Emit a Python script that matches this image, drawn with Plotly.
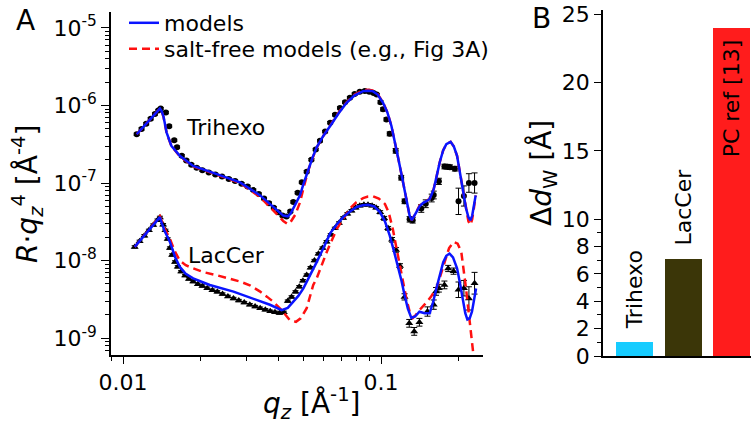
import plotly.graph_objects as go

# ---------------- Panel A data ----------------
tri_q = [0.0113, 0.0118, 0.0123, 0.0128, 0.0133, 0.0137, 0.0140, 0.01466, 0.0151, 0.0158,
         0.0162, 0.0169, 0.0176, 0.0184, 0.0193, 0.0203, 0.0215, 0.0228, 0.0242, 0.0257,
         0.0272, 0.0288, 0.0304, 0.0320, 0.0336, 0.0352, 0.0368, 0.0384, 0.0400, 0.0415,
         0.0430, 0.0445, 0.0457, 0.0475, 0.0493, 0.0515, 0.0537, 0.0558, 0.0580, 0.0607,
         0.0635, 0.0663, 0.0693, 0.0725, 0.0757, 0.0790, 0.0827, 0.0865, 0.0900, 0.0935,
         0.0962, 0.0995, 0.1018, 0.1049, 0.1080, 0.1139, 0.1197, 0.1233, 0.1290, 0.1326,
         0.1432, 0.1490, 0.1571, 0.1600, 0.1675, 0.1760, 0.1810, 0.1848, 0.1932, 0.1996,
         0.2094, 0.2190, 0.2303]
tri_R = [4.25e-7, 4.98e-7, 5.8e-7, 6.73e-7, 7.77e-7, 8.6e-7, 9.1e-7, 8.1e-7, 5.4e-7, 3.55e-7,
         2.9e-7, 2.24e-7, 1.95e-7, 1.72e-7, 1.57e-7, 1.46e-7, 1.37e-7, 1.29e-7, 1.21e-7, 1.13e-7,
         1.06e-7, 9.8e-8, 9.0e-8, 8.1e-8, 7.2e-8, 6.3e-8, 5.5e-8, 4.8e-8, 4.2e-8, 3.8e-8,
         3.7e-8, 4.3e-8, 5.7e-8, 7.5e-8, 1.02e-7, 1.4e-7, 2.0e-7, 2.7e-7, 3.5e-7, 4.6e-7,
         6.0e-7, 7.6e-7, 9.3e-7, 1.1e-6, 1.26e-6, 1.4e-6, 1.5e-6, 1.53e-6, 1.5e-6, 1.45e-6,
         1.38e-6, 1.1e-6, 8.9e-7, 6.6e-7, 4.3e-7, 2.6e-7, 1.17e-7, 5.8e-8, 3.4e-8, 3.3e-8,
         4.7e-8, 5.4e-8, 6.4e-8, 7.0e-8, 1.05e-7, 1.63e-7, 1.62e-7, 1.6e-7, 1.53e-7, 5.8e-8,
         6.8e-8, 1.0e-7, 1.0e-7]
# error half-width in decades
tri_err_dex = [0.015] * 51 + [0.02, 0.02, 0.02, 0.025, 0.03, 0.03, 0.03, 0.035, 0.035,
               0.05, 0.05, 0.05, 0.05, 0.04, 0.03, 0.03, 0.03, 0.03, 0.17,
               0.13, 0.12, 0.13]

lac_q = [0.0111, 0.0116, 0.0121, 0.0126, 0.0131, 0.0136, 0.0139, 0.0143, 0.0146, 0.0149,
         0.0152, 0.0155, 0.0159, 0.0163, 0.0168, 0.0174, 0.0180, 0.0187, 0.0195, 0.0203,
         0.0212, 0.0222, 0.0232, 0.0243, 0.0255, 0.0268, 0.0281, 0.0295, 0.0310, 0.0325,
         0.0340, 0.0356, 0.0372, 0.0388, 0.0404, 0.0420, 0.0435, 0.0450, 0.0466, 0.0482,
         0.0498, 0.0515, 0.0533, 0.0552, 0.0572, 0.0593, 0.0615, 0.0638, 0.0662, 0.0687,
         0.0713, 0.0740, 0.0768, 0.0797, 0.0827, 0.0858, 0.0890, 0.0923, 0.0957, 0.0992,
         0.1028, 0.1065, 0.1103, 0.1143, 0.1184, 0.1233, 0.1286, 0.1344, 0.1408, 0.1513,
         0.1600, 0.1633, 0.1675, 0.1760, 0.1820, 0.1910, 0.1996, 0.2094, 0.2190, 0.2303]
lac_R = [1.5e-8, 1.77e-8, 2.09e-8, 2.45e-8, 2.87e-8, 3.32e-8, 3.6e-8, 2.9e-8, 2.45e-8, 1.9e-8,
         1.45e-8, 1.18e-8, 9.6e-9, 8.3e-9, 7.2e-9, 6.4e-9, 5.8e-9, 5.35e-9, 4.95e-9, 4.7e-9,
         4.4e-9, 4.15e-9, 3.95e-9, 3.7e-9, 3.45e-9, 3.24e-9, 3.05e-9, 2.87e-9, 2.7e-9, 2.55e-9,
         2.43e-9, 2.32e-9, 2.22e-9, 2.15e-9, 2.1e-9, 2.15e-9, 3.0e-9, 3.4e-9, 3.95e-9, 4.6e-9,
         5.5e-9, 6.5e-9, 8.1e-9, 1.0e-8, 1.22e-8, 1.45e-8, 1.75e-8, 2.15e-8, 2.6e-8, 3.05e-8,
         3.55e-8, 4.0e-8, 4.4e-8, 4.8e-8, 5.1e-8, 5.25e-8, 5.25e-8, 5.1e-8, 4.8e-8, 4.2e-8,
         3.5e-8, 2.6e-8, 1.85e-8, 1.37e-8, 8.5e-9, 3.4e-9, 1.55e-9, 1.22e-9, 1.6e-9, 2.2e-9,
         2.7e-9, 4.0e-9, 4.4e-9, 4.85e-9, 7.9e-9, 7.3e-9, 4.2e-9, 4.4e-9, 3.25e-9, 5.1e-9]
lac_err_dex = [0.015] * 59 + [0.02, 0.025, 0.025, 0.03, 0.03, 0.03, 0.04, 0.05, 0.05, 0.05, 0.06,
               0.06, 0.05, 0.05, 0.05, 0.04, 0.04, 0.10, 0.10, 0.15, 0.14]

# models (blue, solid)
tri_model_q = [0.0113, 0.0139, 0.0141, 0.01434, 0.01476, 0.0154, 0.0166, 0.0187, 0.0231, 0.0284,
               0.0340, 0.0382, 0.0418, 0.0435, 0.0445, 0.0465, 0.0485, 0.0502, 0.0522, 0.0543,
               0.0563, 0.0598, 0.0635, 0.0685, 0.0735, 0.0790, 0.0852, 0.0890, 0.0929, 0.0970,
               0.1018, 0.1058, 0.1097, 0.1130, 0.1160, 0.1197, 0.1233, 0.1262, 0.1290, 0.1316,
               0.1340, 0.1370, 0.1410, 0.1456, 0.1500, 0.1543, 0.1570, 0.1600, 0.1640, 0.1687,
               0.1740, 0.1790, 0.1860, 0.1915, 0.1970, 0.2025, 0.2080, 0.2135, 0.2180, 0.2220,
               0.2255, 0.2295, 0.2326]
tri_model_R = [4.25e-7, 9.12e-7, 8.51e-7, 7.3e-7, 4.47e-7, 3.02e-7, 2.24e-7, 1.66e-7, 1.30e-7, 1.02e-7,
               6.92e-8, 4.9e-8, 3.8e-8, 3.72e-8, 3.98e-8, 5.25e-8, 6.92e-8, 1.0e-7, 1.51e-7, 2.14e-7,
               2.88e-7, 4.07e-7, 5.43e-7, 7.94e-7, 1.08e-6, 1.35e-6, 1.53e-6, 1.55e-6, 1.53e-6, 1.38e-6,
               1.08e-6, 8.13e-7, 5.43e-7, 3.55e-7, 2.24e-7, 1.35e-7, 8.37e-8, 5.5e-8, 3.8e-8, 3.31e-8,
               3.63e-8, 4.22e-8, 5.01e-8, 5.55e-8, 5.82e-8, 6.24e-8, 7.08e-8, 8.37e-8, 1.2e-7, 1.84e-7,
               2.63e-7, 3.16e-7, 3.39e-7, 2.95e-7, 2.24e-7, 1.32e-7, 7.59e-8, 4.68e-8, 3.63e-8, 3.31e-8,
               3.8e-8, 5.13e-8, 6.92e-8]

lac_model_q = [0.0111, 0.0139, 0.01415, 0.0145, 0.0152, 0.0159, 0.0166, 0.0175, 0.0187, 0.0217,
               0.0268, 0.0320, 0.0371, 0.0412, 0.0435, 0.0457, 0.0478, 0.0500, 0.0530, 0.0563,
               0.0598, 0.0635, 0.0672, 0.0713, 0.0758, 0.0805, 0.0850, 0.0890, 0.0940, 0.0990,
               0.1035, 0.1080, 0.1120, 0.1160, 0.1200, 0.1233, 0.1270, 0.1310, 0.1355, 0.1408,
               0.1475, 0.1543, 0.1590, 0.1638, 0.1690, 0.1741, 0.1790, 0.1842, 0.1900, 0.1970,
               0.2025, 0.2080, 0.2120, 0.2160, 0.2205, 0.2250, 0.2290, 0.2334]
lac_model_R = [1.5e-8, 3.63e-8, 3.02e-8, 2.4e-8, 1.74e-8, 1.12e-8, 8.32e-9, 6.76e-9, 5.89e-9, 4.84e-9,
               3.98e-9, 3.24e-9, 2.69e-9, 2.29e-9, 2.45e-9, 2.95e-9, 3.5e-9, 4.37e-9, 6.3e-9, 9.55e-9,
               1.45e-8, 2.24e-8, 2.9e-8, 3.63e-8, 4.3e-8, 4.9e-8, 5.15e-8, 5.25e-8, 5.0e-8, 4.22e-8,
               3.2e-8, 2.11e-8, 1.35e-8, 8.71e-9, 5.5e-9, 3.59e-9, 2.4e-9, 1.82e-9, 1.9e-9, 2.19e-9,
               2.09e-9, 2.09e-9, 2.9e-9, 4.37e-9, 6.8e-9, 9.55e-9, 1.15e-8, 1.23e-8, 1.1e-8, 7.94e-9,
               5.0e-9, 2.95e-9, 2.1e-9, 1.74e-9, 1.8e-9, 2.19e-9, 3.0e-9, 4.37e-9]

# salt-free models (red, dashed)
tri_sf_q = tri_model_q
tri_sf_R = [4.25e-7, 9.12e-7, 8.51e-7, 7.2e-7, 4.4e-7, 3.0e-7, 2.2e-7, 1.64e-7, 1.28e-7, 1.0e-7,
            6.6e-8, 4.47e-8, 3.24e-8, 2.95e-8, 3.1e-8, 3.9e-8, 5.6e-8, 8.9e-8, 1.45e-7, 2.1e-7,
            2.85e-7, 4.07e-7, 5.5e-7, 8.1e-7, 1.1e-6, 1.38e-6, 1.57e-6, 1.59e-6, 1.56e-6, 1.40e-6,
            1.09e-6, 8.13e-7, 5.43e-7, 3.55e-7, 2.24e-7, 1.35e-7, 8.37e-8, 5.5e-8, 3.8e-8, 3.31e-8,
            3.7e-8, 4.4e-8, 5.1e-8, 5.55e-8, 5.82e-8, 6.24e-8, 7.08e-8, 8.37e-8, 1.2e-7, 1.84e-7,
            2.63e-7, 3.16e-7, 3.39e-7, 2.95e-7, 2.24e-7, 1.3e-7, 7.4e-8, 4.4e-8, 3.2e-8, 2.88e-8,
            3.4e-8, 5.0e-8, 6.9e-8]

lac_sf_q = [0.0111, 0.0139, 0.01415, 0.0145, 0.0152, 0.0159, 0.0166, 0.0175, 0.0187, 0.0205,
            0.0231, 0.0255, 0.0284, 0.0310, 0.0340, 0.0362, 0.0382, 0.0412, 0.0442, 0.0468,
            0.0488, 0.0515, 0.0546, 0.0563, 0.0616, 0.0674, 0.0757, 0.0800, 0.0852, 0.0890,
            0.0929, 0.0980, 0.1035, 0.1070, 0.1110, 0.1145, 0.1180, 0.1215, 0.1253, 0.1290,
            0.1329, 0.1365, 0.1408, 0.1490, 0.1560, 0.1638, 0.1700, 0.1760, 0.1835, 0.1910,
            0.1980, 0.2046, 0.2090, 0.2134, 0.2180, 0.2224, 0.2260, 0.2295]
lac_sf_R = [1.5e-8, 3.72e-8, 3.2e-8, 2.6e-8, 1.9e-8, 1.3e-8, 1.0e-8, 8.7e-9, 7.94e-9, 7.1e-9,
            6.46e-9, 5.9e-9, 5.37e-9, 4.8e-9, 3.98e-9, 3.4e-9, 2.95e-9, 2.29e-9, 1.72e-9, 1.62e-9,
            1.8e-9, 2.43e-9, 4.84e-9, 5.9e-9, 1.29e-8, 2.57e-8, 4.68e-8, 5.6e-8, 6.37e-8, 6.7e-8,
            6.76e-8, 6.3e-8, 5.37e-8, 4.2e-8, 2.57e-8, 1.5e-8, 8.71e-9, 5.2e-9, 3.24e-9, 2.2e-9,
            1.82e-9, 2.0e-9, 2.29e-9, 2.82e-9, 3.4e-9, 4.37e-9, 6.5e-9, 9.55e-9, 1.45e-8, 1.74e-8,
            1.65e-8, 1.29e-8, 8.0e-9, 4.37e-9, 2.3e-9, 1.35e-9, 8.5e-10, 5.0e-10]

# ---------------- Panel B data ----------------
b_labels = ["Trihexo", "LacCer", "PC ref [13]"]
b_values = [1.0, 7.1, 24.0]
b_colors = ["#17CCFF", "#3B3608", "#FF1C1C"]

y_tickvals = [1e-9, 1e-8, 1e-7, 1e-6, 1e-5]
y_ticktext = ["10<sup>-9</sup>", "10<sup>-8</sup>", "10<sup>-7</sup>", "10<sup>-6</sup>", "10<sup>-5</sup>"]
x_tickvals = [0.01, 0.1]
x_ticktext = ["0.01", "0.1"]
b_tickvals = [0, 2, 4, 6, 8, 10, 15, 20, 25]

FONT = "DejaVu Sans"
W, H = 751, 425


def px(x):
    return x / W


def py(y):
    return 1 - y / H


def errs(vals, dex):
    plus = [v * (10 ** d - 1) for v, d in zip(vals, dex)]
    minus = [v * (1 - 10 ** (-d)) for v, d in zip(vals, dex)]
    return plus, minus


fig = go.Figure()

tp, tm = errs(tri_R, tri_err_dex)
fig.add_trace(go.Scatter(x=tri_q, y=tri_R, mode="markers", showlegend=False,
                         marker=dict(symbol="circle", size=6, color="black"),
                         error_y=dict(type="data", symmetric=False, array=tp, arrayminus=tm,
                                      color="black", thickness=1, width=3),
                         xaxis="x", yaxis="y"))
lp, lm = errs(lac_R, lac_err_dex)
fig.add_trace(go.Scatter(x=lac_q, y=lac_R, mode="markers", showlegend=False,
                         marker=dict(symbol="triangle-up", size=7, color="black"),
                         error_y=dict(type="data", symmetric=False, array=lp, arrayminus=lm,
                                      color="black", thickness=1, width=3),
                         xaxis="x", yaxis="y"))

red = dict(color="#FF1010", width=2.5, dash="8px,5px")
blue = dict(color="#0A14FF", width=2.5)
fig.add_trace(go.Scatter(x=tri_sf_q, y=tri_sf_R, mode="lines", line=red,
                         name="salt-free models (e.g., Fig 3A)", legend="legend2", showlegend=True))
fig.add_trace(go.Scatter(x=lac_sf_q, y=lac_sf_R, mode="lines", line=red, showlegend=False))
fig.add_trace(go.Scatter(x=tri_model_q, y=tri_model_R, mode="lines", line=blue,
                         name="models", legend="legend", showlegend=True))
fig.add_trace(go.Scatter(x=lac_model_q, y=lac_model_R, mode="lines", line=blue, showlegend=False))

fig.add_trace(go.Bar(x=[0, 1, 2], y=b_values, marker=dict(color=b_colors, line=dict(width=0)),
                     width=0.76, showlegend=False, xaxis="x2", yaxis="y2"))

y_minor = [k * 10.0 ** n for n in range(-10, -4) for k in range(2, 10)]
x_minor = [k * 10.0 ** n for n in range(-3, 0) for k in range(2, 10)]

axis_common = dict(showline=True, linecolor="black", linewidth=1.5, showgrid=False,
                   zeroline=False, ticks="outside", tickcolor="black", tickwidth=1.2,
                   automargin=False,
                   tickfont=dict(family=FONT, size=22, color="black"))

legend_common = dict(xanchor="left", yanchor="top", xref="container", yref="container",
                     bgcolor="rgba(0,0,0,0)", borderwidth=0, itemwidth=30,
                     font=dict(family=FONT, size=22, color="black"))

fig.update_layout(
    width=W, height=H,
    margin=dict(l=0, r=0, t=0, b=0, autoexpand=False),
    paper_bgcolor="white", plot_bgcolor="white",
    font=dict(family=FONT, size=22, color="black"),
    xaxis=dict(type="log", domain=[px(111), px(483)], range=[-2.0465, -0.605],
               tickmode="array", tickvals=x_tickvals, ticktext=x_ticktext, ticklen=7,
               minor=dict(tickmode="array", tickvals=x_minor, ticks="outside", ticklen=4,
                          tickwidth=1, tickcolor="black"),
               anchor="y", **axis_common),
    yaxis=dict(type="log", domain=[py(355), py(12)], range=[-9.218, -4.795],
               tickmode="array", tickvals=y_tickvals, ticktext=y_ticktext, ticklen=8,
               minor=dict(tickmode="array", tickvals=y_minor, ticks="outside", ticklen=4,
                          tickwidth=1, tickcolor="black"),
               anchor="x", **axis_common),
    xaxis2=dict(domain=[px(603), 1.0], range=[-0.65, 2.40], showline=True, linecolor="black",
                linewidth=1.5, showgrid=False, zeroline=False, showticklabels=False, ticks="",
                automargin=False, anchor="y2"),
    yaxis2=dict(domain=[py(356), py(10)], range=[0, 25.3], tickmode="array",
                tickvals=b_tickvals, ticklen=7,
                minor=dict(tickmode="array", tickvals=[1, 3, 5, 7, 9], ticks="outside",
                           ticklen=4, tickwidth=1, tickcolor="black"),
                anchor="x2", **axis_common),
    legend=dict(x=px(124), y=py(2), **legend_common),
    legend2=dict(x=px(124), y=py(28), **legend_common),
    bargap=0,
)


def label(text, x, y, size=28, angle=0):
    return dict(text=text, x=x, y=y, xref="paper", yref="paper", showarrow=False,
                xanchor="center", yanchor="middle", textangle=angle,
                font=dict(family=FONT, size=size, color="black"))


ann = [
    label("A", px(25), py(20)),
    label("B", px(541), py(19)),
    label("<i>R</i>·<i>q</i><sub><i>z</i></sub><sup>4</sup> [Å<sup>-4</sup>]", px(27), py(194), angle=-90),
    label("<i>q</i><sub><i>z</i></sub> [Å<sup>-1</sup>]", px(312), py(403)),
    label("Δ<i>d</i><sub>W</sub> [Å]", px(543), py(173), angle=-90),
]
# curve labels (log axes: positions in log10 units)
ann.append(dict(text="Trihexo", x=-1.603, y=-6.282, xref="x", yref="y", showarrow=False,
                xanchor="center", yanchor="middle", font=dict(family=FONT, size=22, color="black")))
ann.append(dict(text="LacCer", x=-1.599, y=-7.936, xref="x", yref="y", showarrow=False,
                xanchor="center", yanchor="middle", font=dict(family=FONT, size=22, color="black")))
# bar labels
for i, (lab, val) in enumerate(zip(b_labels, b_values)):
    inside = i == 2
    ann.append(dict(text=lab, x=i, y=val, xref="x2", yref="y2", showarrow=False,
                    textangle=-90, xanchor="center", yanchor="top" if inside else "bottom",
                    yshift=-10 if inside else 11, font=dict(family=FONT, size=22, color="black")))
fig.update_layout(annotations=ann)

fig.write_html("out.html")
